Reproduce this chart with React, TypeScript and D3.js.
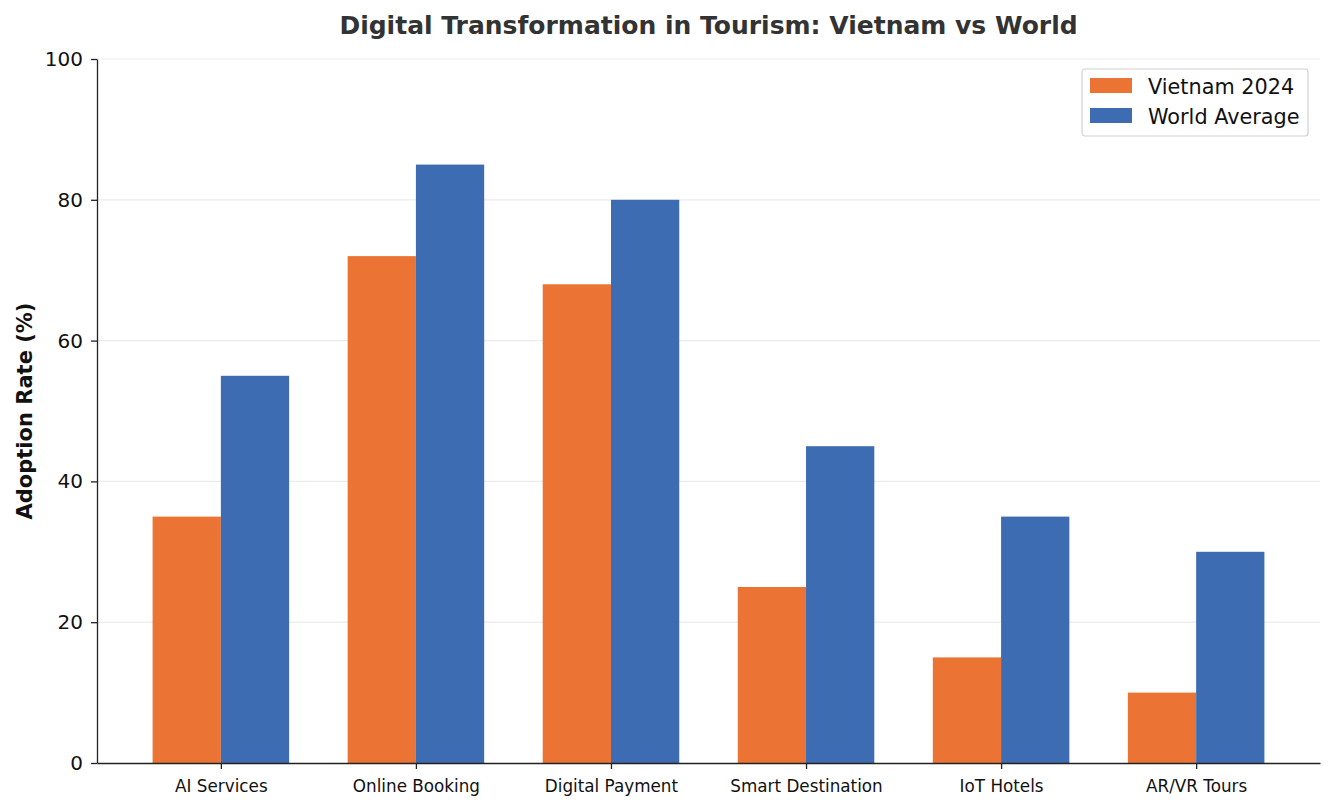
import React, { useEffect, useRef } from 'react';
import * as d3 from 'd3';

const categories = ['AI Services', 'Online Booking', 'Digital Payment', 'Smart Destination', 'IoT Hotels', 'AR/VR Tours'];
const vietnam = [35, 72, 68, 25, 15, 10];
const world = [55, 85, 80, 45, 35, 30];
const yTicks = [0, 20, 40, 60, 80, 100];
const seriesNames = ['Vietnam 2024', 'World Average'];
const seriesColors = ['#EB7434', '#3D6CB3'];

const App = () => {
  const ref = useRef<SVGSVGElement>(null);

  useEffect(() => {
    const width = 1334;
    const height = 811;
    const margin = { top: 59, right: 14, bottom: 48, left: 97 };
    const innerW = width - margin.left - margin.right;
    const innerH = height - margin.top - margin.bottom;
    const font = 'DejaVu Sans, sans-serif';

    const svg = d3.select(ref.current)
      .attr('width', width)
      .attr('height', height);
    svg.selectAll('*').remove();

    svg.append('rect').attr('width', width).attr('height', height).attr('fill', 'white');

    const barW = 0.35;
    const xScale = d3.scaleLinear().domain([-0.635, categories.length - 1 + 0.635]).range([0, innerW]);
    const yScale = d3.scaleLinear().domain([0, 100]).range([innerH, 0]);

    const g = svg.append('g').attr('transform', `translate(${margin.left}, ${margin.top})`);

    // grid
    g.selectAll('.grid')
      .data(yTicks.filter(d => d > 0))
      .join('line')
      .attr('x1', 0)
      .attr('x2', innerW)
      .attr('y1', d => yScale(d))
      .attr('y2', d => yScale(d))
      .attr('stroke', '#ebebeb')
      .attr('stroke-width', 1.2);

    // bars
    const series = [vietnam, world];
    series.forEach((vals, si) => {
      g.selectAll(`.bar${si}`)
        .data(vals)
        .join('rect')
        .attr('x', (d, i) => xScale(i + (si === 0 ? -barW : 0)))
        .attr('width', xScale(barW) - xScale(0))
        .attr('y', d => yScale(d))
        .attr('height', d => innerH - yScale(d))
        .attr('fill', seriesColors[si]);
    });

    // y axis
    const yAxis = g.append('g')
      .call(d3.axisLeft(yScale).tickValues(yTicks).tickSize(6).tickPadding(8).tickSizeOuter(0));
    yAxis.select('.domain').attr('stroke', '#222').attr('stroke-width', 1.3);
    yAxis.selectAll('.tick line').attr('stroke', '#222').attr('stroke-width', 1.3);
    yAxis.selectAll('.tick text').attr('font-family', font).attr('font-size', '20px').attr('fill', '#111');

    // x axis
    const xAxis = g.append('g')
      .attr('transform', `translate(0, ${innerH})`)
      .call(d3.axisBottom(xScale).tickValues(d3.range(categories.length)).tickFormat((d: any) => categories[d]).tickSize(6).tickPadding(11).tickSizeOuter(0));
    xAxis.select('.domain').attr('stroke', '#222').attr('stroke-width', 1.3);
    xAxis.selectAll('.tick line').attr('stroke', '#222').attr('stroke-width', 1.3);
    xAxis.selectAll('.tick text').attr('font-family', font).attr('font-size', '16.8px').attr('fill', '#111');

    // title
    svg.append('text')
      .attr('x', margin.left + innerW / 2)
      .attr('y', 34)
      .attr('text-anchor', 'middle')
      .attr('font-family', font)
      .attr('font-weight', 'bold')
      .attr('font-size', '25px')
      .attr('fill', '#333')
      .text('Digital Transformation in Tourism: Vietnam vs World');

    // y label
    svg.append('text')
      .attr('transform', `translate(32, ${margin.top + innerH / 2}) rotate(-90)`)
      .attr('text-anchor', 'middle')
      .attr('font-family', font)
      .attr('font-weight', 'bold')
      .attr('font-size', '21px')
      .attr('fill', '#111')
      .text('Adoption Rate (%)');

    // legend
    const legend = svg.append('g').attr('transform', 'translate(1082, 69)');
    legend.append('rect')
      .attr('width', 226).attr('height', 67).attr('rx', 3)
      .attr('fill', 'white').attr('stroke', '#d0d0d0').attr('stroke-width', 1.2);
    seriesNames.forEach((name, i) => {
      legend.append('rect')
        .attr('x', 8).attr('y', 9 + i * 30)
        .attr('width', 42).attr('height', 15)
        .attr('fill', seriesColors[i]);
      legend.append('text')
        .attr('x', 66).attr('y', 25 + i * 30)
        .attr('font-family', font)
        .attr('font-size', '20.8px')
        .attr('fill', '#111')
        .text(name);
    });
  }, []);

  return <svg ref={ref} style={{ display: 'block', position: 'absolute', left: 0, top: 0 }}></svg>;
};

export default App;
